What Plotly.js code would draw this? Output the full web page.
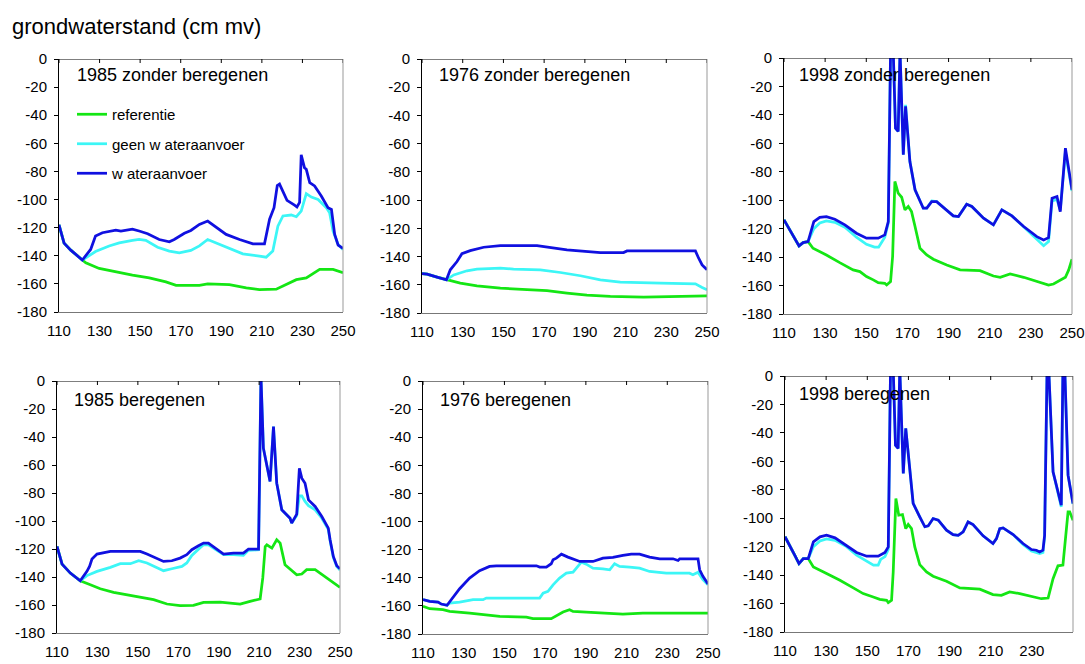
<!DOCTYPE html>
<html><head><meta charset="utf-8">
<script src="https://cdn.plot.ly/plotly-3.0.1.min.js"></script>
<style>html,body{margin:0;padding:0;background:#fff}#chart{width:1085px;height:664px}</style>
</head><body><div id="chart"></div>
<script>
// ---------- text / ticks ----------
const mainTitle = 'grondwaterstand (cm mv)';
const seriesNames = ['referentie', 'geen w ateraanvoer', 'w ateraanvoer'];
const panelTitles = ['1985 zonder beregenen', '1976 zonder beregenen', '1998 zonder beregenen',
                     '1985 beregenen', '1976 beregenen', '1998 beregenen'];
const dayTicks = [110, 130, 150, 170, 190, 210, 230, 250];
const dayTickLabels = ['110', '130', '150', '170', '190', '210', '230', '250'];
const levelTicks = [0, -20, -40, -60, -80, -100, -120, -140, -160, -180];
const levelTickLabels = ['0', '-20', '-40', '-60', '-80', '-100', '-120', '-140', '-160', '-180'];

// ---------- data: [day, grondwaterstand] ----------
// 1985 zonder beregenen
const p1Ref = [[110,-118],[112.5,-131],[115.8,-136],[121.5,-143],[123.2,-145],[129.8,-149],[138,-151.5],[146.2,-153.8],[154.5,-155.7],[162.7,-158.6],[167.7,-161],[179.2,-161],[183.3,-160],[194,-160.5],[202.3,-162.9],[208.8,-164],[217.1,-163.8],[222,-160.5],[227,-157],[231.9,-155.7],[236,-152],[238.5,-149.7],[245.1,-149.7],[250,-152]];
const p1Geen = [[110,-118],[112.5,-131],[115.8,-136],[121.5,-143],[123.2,-141.5],[128,-137],[134.7,-133],[139.7,-130.8],[146.2,-129],[149.5,-128.4],[152.8,-129],[158.6,-133.9],[164.4,-136.7],[169.3,-137.9],[175,-136.2],[179.2,-133],[183.3,-128.4],[187.4,-130.8],[194,-134.8],[200.6,-138.6],[208.8,-140.3],[212.1,-141],[215.4,-136.7],[217.9,-118.9],[220.4,-111.7],[224.5,-111],[227,-112.2],[229.4,-108.2],[231.9,-95.8],[234.4,-98.2],[237.7,-99.9],[241.8,-105.8],[243.4,-109.4],[245.1,-122.4],[247.6,-132],[250,-135.5]];
const p1Wa = [[110,-118],[112.5,-131],[115.8,-136],[121.5,-143],[125.6,-135.5],[128,-126],[131.4,-123.6],[138,-121.7],[140.5,-122.4],[146.2,-121],[149.5,-122.4],[153.7,-124.3],[159.4,-128.4],[164.4,-130],[166.8,-128.4],[171.8,-124],[175,-122],[179.2,-117.7],[183.3,-115.3],[187.4,-119.4],[192.4,-124.8],[199,-128.4],[205.6,-131.5],[211.3,-131.5],[213.8,-114],[216,-105.8],[217.6,-90],[218.7,-89],[220.4,-94],[222.4,-100.6],[226.1,-104],[227.3,-105.3],[228.6,-102],[229.4,-68.2],[231,-77.3],[231.9,-78.5],[233.6,-88],[236,-90.3],[239.3,-97.5],[242.6,-105.8],[244.3,-107],[245.9,-124.8],[247.6,-132.4],[250,-134.8]];
// 1976 zonder beregenen
const p2Ref = [[110,-152],[112.5,-152.5],[117.4,-154.6],[122,-156.5],[128.8,-158.8],[137,-160.7],[148.5,-162.4],[161.6,-163.5],[171.4,-164.2],[181.2,-165.9],[191,-167.3],[202.5,-168.2],[218.9,-168.7],[250,-167.8]];
const p2Geen = [[110,-152],[112.5,-152.5],[117.4,-154.6],[122,-156.5],[125.6,-153],[132.1,-150.1],[137,-148.9],[148.5,-148.2],[155,-148.9],[168.1,-149.4],[178,-151.3],[187.8,-153.6],[197.6,-156.5],[207.4,-158.1],[227.1,-158.8],[244.3,-159.3],[247.6,-161.9],[250,-163.5]];
const p2Wa = [[110,-152],[112.5,-152.5],[117.4,-154.6],[122,-156.5],[123.9,-149.4],[127.2,-143.5],[129.6,-138],[133.7,-135.8],[140.3,-133.4],[148.5,-132.2],[166.5,-132.2],[171.4,-133.4],[181.2,-135.3],[197.6,-137.2],[209,-137.2],[210.7,-136],[244.3,-136],[245.9,-141.2],[247.6,-145.9],[250,-149.4]];
// 1998 zonder beregenen
const p3Ref = [[110,-113.8],[112.8,-120.9],[115.2,-126.7],[117.3,-132.1],[119.3,-129.8],[121.7,-129.1],[124.1,-133.8],[130.6,-138.5],[137.1,-143.9],[143.6,-149],[146.9,-150.2],[150.1,-153.7],[153.4,-156],[155.8,-158],[159,-158.4],[159.9,-159.6],[161.8,-157.2],[162.8,-139.6],[163.9,-86.8],[165.5,-95],[167.2,-97.9],[168.8,-106.8],[170.4,-104.4],[172,-108],[173.7,-118.5],[176.1,-133.8],[179.4,-138.5],[182.6,-141.5],[189.1,-145.5],[195.6,-149],[205.3,-149.5],[211.8,-153.3],[215.1,-154.2],[219.9,-151.8],[226.5,-154.2],[232.9,-157.2],[238.6,-159.6],[241,-158.9],[244.3,-156],[246.8,-154.2],[248.4,-149],[250,-141.5]];
const p3Geen = [[110,-113.8],[112.8,-120.9],[115.2,-126.7],[117.3,-132.1],[119.3,-129.8],[121.7,-129.1],[124.5,-120],[127.4,-116],[130.6,-114.5],[134.7,-115.5],[139.6,-119],[145.2,-126],[150.1,-131],[154,-133],[156,-133],[157.5,-129],[159,-126],[160.7,-116],[161.8,5],[163.1,5],[164.2,-49.3],[165.5,-51.6],[166.4,5],[168,-68],[169.1,-33],[171.2,-72.8],[173.7,-92.7],[177.7,-105.6],[179.4,-105.6],[181.8,-100.5],[184.2,-101],[189.1,-107],[192.3,-111],[194.8,-111.5],[198.8,-102.8],[201.3,-104.4],[207,-112.6],[211.8,-117.3],[215.9,-106.8],[220.8,-111],[226.5,-119],[232.9,-127.5],[236.2,-132],[238.6,-129],[240.3,-100.5],[242.7,-99.5],[244.3,-107],[246.8,-66],[248.4,-79],[250,-93.5]];
const p3Wa = [[110,-113.8],[112.8,-120.9],[115.2,-126.7],[117.3,-132.1],[119.3,-129.8],[121.7,-129.1],[124.5,-115],[127.4,-112],[130.6,-111.5],[134.7,-113.4],[139.6,-117.3],[145.2,-123.2],[150.1,-126.7],[155.8,-126.7],[159,-124.4],[160.7,-115],[161.8,5],[163.1,5],[164.2,-49.3],[165.5,-51.6],[166.4,5],[168,-68],[169.1,-34],[171.2,-72.8],[173.7,-92.7],[177.7,-105.6],[179.4,-105.6],[181.8,-101],[184.2,-101],[189.1,-106.8],[192.3,-111],[194.8,-111.5],[198.8,-102.8],[201.3,-104.4],[207,-112.6],[211.8,-117.3],[215.9,-106.8],[220.8,-111],[226.5,-118.5],[232.9,-125.6],[236.2,-127.9],[238.6,-126.3],[240.3,-98.6],[242.7,-97.4],[244.3,-108],[246.8,-63.4],[248.4,-79.8],[250,-92.7]];
// 1985 beregenen
const p4Ref = [[110,-118.2],[112.5,-130.8],[116.6,-137.2],[121.5,-142.7],[126.5,-145.5],[131.4,-148.4],[138,-151],[144.6,-152.6],[151.2,-154.5],[157.8,-156.2],[164.4,-159.3],[170.9,-160.5],[177.5,-160.2],[182.5,-158.1],[190.7,-157.9],[195.7,-158.6],[200.6,-159.3],[205.5,-157.4],[210.5,-155.7],[211.8,-140.7],[213,-118.2],[213.8,-117],[216.3,-119.4],[218.7,-113.4],[220.4,-115.8],[222.8,-131.2],[225.3,-134.1],[228.6,-138.4],[231.1,-137.9],[233.5,-134.8],[237.7,-134.8],[243.4,-140.8],[250,-147.4]];
const p4Geen = [[110,-118.2],[112.5,-130.8],[116.6,-137.2],[121.5,-142.7],[124.8,-139],[129.8,-136],[136.4,-133.1],[141.3,-130.5],[146.3,-130.5],[150.4,-128.4],[154.5,-130],[159.4,-133.6],[162.7,-135.5],[166.8,-134.1],[171.8,-132.4],[174.2,-130],[176.7,-124.6],[180,-120.1],[182.5,-117],[184.9,-117],[188.2,-120],[192.4,-124],[197.3,-124],[202.2,-124.6],[204.7,-121],[209.7,-120.5],[210.9,3],[212.1,-48],[215.4,-71.8],[217.1,-32.6],[218.7,-73],[221.2,-92],[225.3,-98],[226.1,-101.5],[228.6,-96],[229.9,-82],[231.1,-82],[232.7,-86],[234.4,-89],[237.7,-92],[241,-98],[244.2,-106],[245.1,-114],[246.7,-126],[248.4,-132.5],[250,-135]];
const p4Wa = [[110,-118.2],[112.5,-130.8],[116.6,-137.2],[121.5,-142.7],[124.8,-136],[126.1,-132.4],[127.3,-127.2],[129.8,-123.6],[136.4,-121.7],[151.2,-121.7],[154.5,-123.6],[159.4,-127],[162.7,-128.9],[166.8,-128.4],[170.9,-126.5],[174.2,-124.1],[176.7,-120.5],[180,-117.7],[182.5,-115.8],[184.9,-115.8],[188.2,-119.4],[192.4,-123.6],[197.3,-122.9],[202.2,-122.9],[204.7,-120.1],[209.7,-120.1],[210.9,3],[212.1,-48],[215.4,-71.8],[217.1,-32.6],[218.7,-73],[221.2,-92],[225.3,-98],[226.1,-101.5],[228.6,-95.1],[229.9,-62.3],[231.1,-69.4],[232.7,-73],[234.4,-84.9],[237.7,-89.6],[241,-96.8],[244.2,-105.1],[245.1,-113.4],[246.7,-125.3],[248.4,-132],[250,-134.1]];
// 1976 beregenen
const p5Ref = [[110,-160.3],[113.3,-162],[119.8,-162.7],[123.1,-163.9],[132.9,-165.1],[141.1,-166.3],[147.7,-167.5],[160.8,-168],[164,-169.1],[173,-169.1],[178.8,-164.4],[182,-162.7],[183.7,-163.9],[190.2,-164.4],[198.4,-165.1],[203.3,-165.8],[208.2,-165.8],[218,-165.1],[250,-165.1]];
const p5Geen = [[110,-155.6],[113.3,-156.8],[117.4,-157.3],[119,-158.7],[121.8,-159.6],[123.1,-158],[128,-157.3],[134.6,-155.6],[139.5,-155.6],[141.1,-154.4],[167.3,-154.4],[169,-150.9],[171.4,-149.7],[173.9,-145],[177.1,-140.2],[180.4,-136.7],[183.7,-136],[187.8,-128.9],[190.2,-130.3],[193.5,-133.1],[198.4,-133.6],[201.7,-134.3],[204.1,-130],[206.6,-131.9],[211.5,-132.4],[216.4,-133.1],[221.3,-135.5],[229.5,-136.7],[240.9,-136.7],[242.6,-137.8],[245.1,-136],[247.5,-141.4],[250,-145]];
const p5Wa = [[110,-155.6],[113.3,-156.8],[117.4,-157.3],[119,-158.7],[121.8,-159.6],[124.7,-154.4],[128,-147.8],[132.9,-140.2],[137.8,-135],[142.7,-131.9],[146,-131.5],[165.7,-131.5],[167.3,-132.4],[170.6,-132.4],[173,-130],[173.9,-127.2],[175.5,-126],[178,-123.2],[181.2,-125.3],[187,-128.4],[193.5,-128.4],[198.4,-126],[203.3,-125.5],[208.2,-124.1],[212.3,-123.2],[216.4,-123.2],[221.3,-125.3],[226.3,-126.5],[232.8,-126.5],[235.3,-127.7],[236.1,-126.5],[245.1,-126.5],[245.9,-134.3],[247.5,-139],[250,-144.5]];
// 1998 beregenen
const p6Ref = [[110,-113],[112.4,-120.2],[114.9,-126.5],[116.8,-131.9],[118.9,-128.4],[121.3,-128.4],[123.8,-134.2],[130.2,-138.9],[136.7,-143.6],[143.2,-149],[148,-153],[152.9,-155.4],[156.1,-157],[159.4,-157.7],[160.2,-159.3],[161.8,-157.7],[162.6,-137.8],[163.9,-86.1],[165.3,-97.9],[167.1,-97.4],[168.7,-107.3],[169.9,-104.4],[171.5,-107.3],[173.1,-120.2],[175.5,-132.6],[178.8,-137.8],[182,-140.8],[188.5,-144.3],[195,-149],[204.7,-149.9],[211.1,-153.7],[215.2,-154.2],[219.2,-151.8],[224.1,-153],[230.5,-155.4],[234.6,-156.6],[237.9,-156.1],[240.3,-142.5],[242.7,-133.5],[245.1,-133],[247.6,-95.5],[248.4,-95.5],[250,-101.4]];
const p6Geen = [[110,-113],[112.4,-120.2],[114.9,-126.5],[116.8,-131.9],[118.9,-128.4],[121.3,-128.4],[123.8,-120],[127,-116],[130.2,-114.5],[134.3,-115.5],[139.9,-120],[144.8,-126],[149.7,-130],[153,-133],[155.3,-133],[156.5,-129],[158.6,-127],[160.2,-122],[161.3,5],[162.6,5],[163.7,-48.6],[165,-50.9],[165.8,5],[167.5,-68.5],[168.7,-36.8],[170.7,-67.4],[172.3,-89.6],[175.5,-99],[178,-106],[179.6,-105.4],[182,-100.2],[184.5,-101.4],[188.5,-108.4],[191.7,-111.5],[194.2,-112],[196.6,-109.6],[199,-102.6],[201.4,-104.4],[206.3,-112.4],[211.1,-117.8],[212.8,-114.3],[214.4,-107.3],[216,-106.8],[220.9,-111.5],[225.7,-118.5],[229.8,-123],[232.2,-124],[233.8,-124.8],[235.4,-124],[236.2,-113],[237.4,5],[238.2,5],[240.3,-67.4],[244.3,-92],[245.1,5],[246,5],[247.6,-69.7],[250,-90]];
const p6Wa = [[110,-113],[112.4,-120.2],[114.9,-126.5],[116.8,-131.9],[118.9,-128.4],[121.3,-128.4],[123.8,-116.6],[127,-113.1],[130.2,-111.9],[134.3,-113.8],[139.9,-119],[144.8,-124.1],[149.7,-126.7],[155.3,-126.7],[158.6,-124.1],[160.2,-120.2],[161.3,5],[162.6,5],[163.7,-48.6],[165,-50.9],[165.8,5],[167.5,-68.5],[168.7,-36.8],[170.7,-67.4],[172.3,-89.6],[175.5,-99],[178,-106],[179.6,-105.4],[182,-100.2],[184.5,-101.4],[188.5,-108.4],[191.7,-111.5],[194.2,-112],[196.6,-109.6],[199,-102.6],[201.4,-104.4],[206.3,-112.4],[211.1,-117.8],[212.8,-114.3],[214.4,-107.3],[216,-106.8],[220.9,-111.5],[225.7,-117.8],[229.8,-122],[232.2,-122.5],[233.8,-123.7],[235.4,-122.5],[236.2,-112],[237.4,5],[238.2,5],[240.3,-67.4],[244.3,-90.8],[245.1,5],[246,5],[247.6,-69.7],[250,-89.6]];

const panelData = [
  [p1Ref, p1Geen, p1Wa], [p2Ref, p2Geen, p2Wa], [p3Ref, p3Geen, p3Wa],
  [p4Ref, p4Geen, p4Wa], [p5Ref, p5Geen, p5Wa], [p6Ref, p6Geen, p6Wa]
];

// ---------- styling / layout ----------
const W = 1085, H = 664;
const FONT = 'Liberation Sans, Arial, sans-serif';
const colors = ['#14e614', '#3cf6f6', '#1010e0'];
// plot boxes in pixels: [left, right, top, bottom]
const boxes = [
  [59, 343, 59, 312], [422, 707, 59, 313], [784, 1072, 58, 314],
  [57, 340, 381, 633], [423, 708, 381, 634], [785, 1073, 376, 632]
];
const titlePos = [[75, 75], [437, 75], [797, 75], [72, 400], [438, 400], [797, 394]];

const traces = [];
const layout = {
  width: W, height: H,
  margin: {l: 0, r: 0, t: 0, b: 0},
  paper_bgcolor: '#fff', plot_bgcolor: '#fff',
  font: {family: FONT, color: '#000'},
  showlegend: true,
  legend: {
    x: 72 / W, xanchor: 'left', y: 1 - 98 / H, yanchor: 'top',
    bgcolor: 'rgba(0,0,0,0)', font: {family: FONT, size: 15, color: '#000'},
    traceorder: 'grouped', tracegroupgap: 7
  },
  annotations: [], shapes: []
};

layout.annotations.push({
  text: mainTitle, xref: 'paper', yref: 'paper', x: 10 / W, y: 1 - 26 / H,
  xanchor: 'left', yanchor: 'middle', showarrow: false,
  font: {family: FONT, size: 22, color: '#000'}
});

boxes.forEach((b, i) => {
  const n = i + 1;
  const xa = n === 1 ? 'xaxis' : 'xaxis' + n;
  const ya = n === 1 ? 'yaxis' : 'yaxis' + n;
  const xr = n === 1 ? 'x' : 'x' + n;
  const yr = n === 1 ? 'y' : 'y' + n;
  layout[xa] = {
    domain: [b[0] / W, b[1] / W], anchor: yr, range: [110, 250],
    tickmode: 'array', tickvals: dayTicks, ticktext: dayTickLabels,
    showgrid: false, zeroline: false, showline: true, linecolor: '#777', linewidth: 1,
    ticks: '', ticklabelstandoff: 5, tickfont: {family: FONT, size: 15, color: '#000'},
    fixedrange: true
  };
  layout[ya] = {
    domain: [1 - b[3] / H, 1 - b[2] / H], anchor: xr, range: [-180, 0],
    tickmode: 'array', tickvals: levelTicks, ticktext: levelTickLabels,
    showgrid: false, zeroline: false, showline: true, linecolor: '#000', linewidth: 1,
    ticks: 'outside', ticklen: 4, tickcolor: '#000', ticklabelstandoff: 4,
    tickfont: {family: FONT, size: 15, color: '#000'}, fixedrange: true
  };
  panelData[i].forEach((s, k) => {
    traces.push({
      type: 'scatter', mode: 'lines', xaxis: xr, yaxis: yr,
      x: s.map(p => p[0]), y: s.map(p => p[1]),
      name: seriesNames[k], legendgroup: 'g' + k, showlegend: i === 0,
      line: {color: colors[k], width: 2.75}, hoverinfo: 'skip'
    });
  });
  // category axis crossing at 0 (top) with inward tick marks
  layout.shapes.push({type: 'line', xref: xr, yref: yr, x0: 110, x1: 250, y0: 0, y1: 0,
    line: {color: '#000', width: 1}});
  dayTicks.forEach(t => {
    layout.shapes.push({type: 'line', xref: xr, yref: yr, ysizemode: 'pixel', yanchor: 0,
      x0: t, x1: t, y0: 0, y1: -4, line: {color: '#000', width: 1}});
  });
  // right border of plot area
  layout.shapes.push({type: 'line', xref: xr + ' domain', yref: yr + ' domain',
    x0: 1, x1: 1, y0: 0, y1: 1, line: {color: '#999', width: 1}});
  layout.annotations.push({
    text: panelTitles[i], xref: 'paper', yref: 'paper',
    x: titlePos[i][0] / W, y: 1 - titlePos[i][1] / H,
    xanchor: 'left', yanchor: 'middle', showarrow: false,
    font: {family: FONT, size: 18, color: '#000'}
  });
});

Plotly.newPlot('chart', traces, layout, {displayModeBar: false, staticPlot: true});
</script></body></html>
